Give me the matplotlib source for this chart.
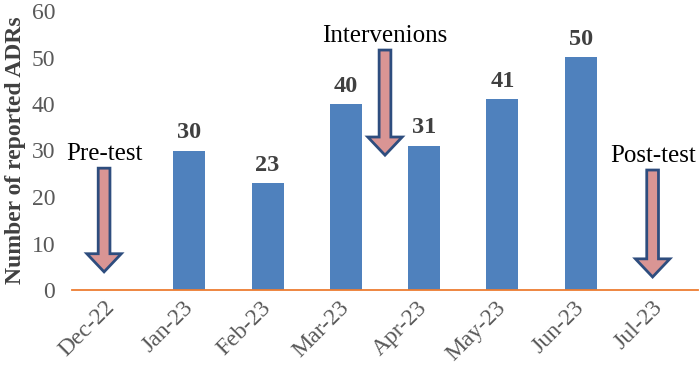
import numpy as np
import matplotlib.pyplot as plt
from matplotlib.patches import FancyArrow
from matplotlib.transforms import ScaledTranslation

plt.rcParams['font.family'] = ['Liberation Serif', 'DejaVu Serif']

# datos del grafico
months = ["Dec-22", "Jan-23", "Feb-23", "Mar-23", "Apr-23", "May-23", "Jun-23", "Jul-23"]
adrs = [0, 30, 23, 40, 31, 41, 50, 0]
shown = [False, True, True, True, True, True, True, False]

# flechas de anotacion: (texto, x, y inicio, y fin)
notes = ["Pre-test", "Intervenions", "Post-test"]
note_x = [-0.09, 3.5, 6.92]
note_top = [26.2, 51.6, 25.8]
note_bottom = [3.9, 29.0, 2.8]

fig = plt.figure(figsize=(6.99, 3.74), dpi=100)
ax = fig.add_axes([72 / 699, 1 - 290 / 374, 626 / 699, 279 / 374])

x = np.arange(len(months))
ax.bar(x, adrs, width=0.41, color="#4F81BD")

for xi, v, s in zip(x, adrs, shown):
    if s:
        ax.text(xi, v + 1.6, str(v), ha="center", va="bottom",
                fontsize=17.5, fontweight="bold", color="#404040")

for label, nx, top, bottom in zip(notes, note_x, note_top, note_bottom):
    arr = FancyArrow(nx, top, 0, bottom - top, width=0.15, head_width=0.44,
                     head_length=3.9, length_includes_head=True,
                     facecolor="#D99594", edgecolor="#2E4D7E", linewidth=2.0)
    ax.add_patch(arr)
    ax.text(nx, top + 0.6, label, ha="center", va="bottom", fontsize=18, color="black")

ax.set_xlim(-0.5, 7.5)
ax.set_ylim(0, 60)
ax.set_yticks(range(0, 61, 10))
ax.set_xticks(x)
ax.set_xticklabels(months, rotation=45, ha="right", rotation_mode="anchor")
ax.tick_params(axis="both", length=0, labelsize=17, labelcolor="#595959")
ax.tick_params(axis="x", pad=5)
ax.tick_params(axis="y", pad=12)

# mover un poco las etiquetas del eje x a la izquierda
shift = ScaledTranslation(-7 / 100, 0, fig.dpi_scale_trans)
for lbl in ax.get_xticklabels():
    lbl.set_transform(lbl.get_transform() + shift)

for side in ["top", "right", "left"]:
    ax.spines[side].set_visible(False)
ax.spines["bottom"].set_color("#ED7D31")
ax.spines["bottom"].set_linewidth(1.3)

ax.set_ylabel("Number of reported ADRs", fontsize=17, fontweight="bold",
              color="#404040", labelpad=4)

fig.savefig("out.png", dpi=100)
